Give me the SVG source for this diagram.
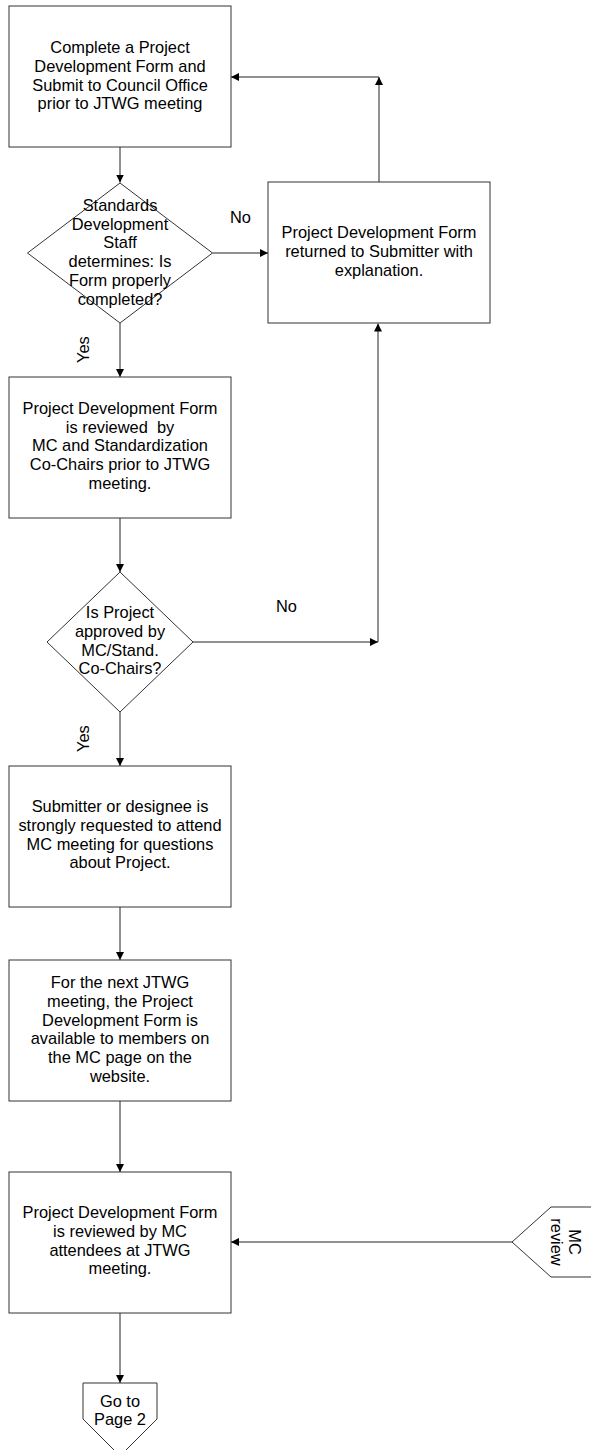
<svg xmlns="http://www.w3.org/2000/svg" width="591" height="1450" viewBox="0 0 591 1450">
<style>
.shape{fill:#fff;stroke:#333;stroke-width:1}
.t{font-family:"Liberation Sans",Arial,sans-serif;font-size:16.4px;fill:#000;text-anchor:middle}
.tl{font-family:"Liberation Sans",Arial,sans-serif;font-size:16.4px;fill:#000}
.c{fill:none;stroke:#222;stroke-width:1}
</style>
<defs>
<marker id="ah" markerUnits="userSpaceOnUse" markerWidth="8" markerHeight="8" refX="8" refY="4" orient="auto">
<path d="M0,0 L8,4 L0,8 z" fill="#000"/>
</marker>
</defs>
<rect width="591" height="1450" fill="#fff"/>
<g id="connectors">
<line class="c" x1="120" y1="147" x2="120" y2="182.5" marker-end="url(#ah)"/>
<line class="c" x1="212.5" y1="253" x2="268" y2="253" marker-end="url(#ah)"/>
<line class="c" x1="379" y1="182" x2="379" y2="77" marker-end="url(#ah)"/>
<line class="c" x1="379" y1="77" x2="231" y2="77" marker-end="url(#ah)"/>
<line class="c" x1="120" y1="323" x2="120" y2="377" marker-end="url(#ah)"/>
<line class="c" x1="120" y1="518" x2="120" y2="572" marker-end="url(#ah)"/>
<line class="c" x1="193" y1="642" x2="378" y2="642" marker-end="url(#ah)"/>
<line class="c" x1="378" y1="642" x2="378" y2="323.5" marker-end="url(#ah)"/>
<line class="c" x1="120" y1="712" x2="120" y2="766" marker-end="url(#ah)"/>
<line class="c" x1="120" y1="907" x2="120" y2="960" marker-end="url(#ah)"/>
<line class="c" x1="120" y1="1101" x2="120" y2="1172" marker-end="url(#ah)"/>
<line class="c" x1="512" y1="1242" x2="231" y2="1242" marker-end="url(#ah)"/>
<line class="c" x1="120" y1="1313" x2="120" y2="1383" marker-end="url(#ah)"/>
<text class="tl" x="230" y="222.7">No</text>
<text class="tl" x="276" y="611.7">No</text>
<text class="tl" transform="translate(89,363) rotate(-90)">Yes</text>
<text class="tl" transform="translate(89,752) rotate(-90)">Yes</text>
</g>
<g id="n1">
<rect class="shape" x="9" y="6" width="222" height="141"/>
<text class="t" x="120" y="53.3">Complete a Project</text>
<text class="t" x="120" y="72">Development Form and</text>
<text class="t" x="120" y="90.7">Submit to Council Office</text>
<text class="t" x="120" y="109.4">prior to JTWG meeting</text>
</g>
<g id="d1">
<polygon class="shape" points="120,183 212.5,253 120,323 27.5,253"/>
<text class="t" x="120" y="211">Standards</text>
<text class="t" x="120" y="229.7">Development</text>
<text class="t" x="120" y="248.4">Staff</text>
<text class="t" x="120" y="267.1">determines: Is</text>
<text class="t" x="120" y="285.8">Form properly</text>
<text class="t" x="120" y="304.5">completed?</text>
</g>
<g id="n2">
<rect class="shape" x="268" y="182" width="222" height="141"/>
<text class="t" x="379" y="238.3">Project Development Form</text>
<text class="t" x="379" y="257">returned to Submitter with</text>
<text class="t" x="379" y="275.7">explanation.</text>
</g>
<g id="n3">
<rect class="shape" x="9" y="377" width="222" height="141"/>
<text class="t" x="120" y="414">Project Development Form</text>
<text class="t" x="120" y="432.7" xml:space="preserve">is reviewed  by</text>
<text class="t" x="120" y="451.4">MC and Standardization</text>
<text class="t" x="120" y="470.1">Co-Chairs prior to JTWG</text>
<text class="t" x="120" y="488.8">meeting.</text>
</g>
<g id="d2">
<polygon class="shape" points="120,572 193,642 120,712 47,642"/>
<text class="t" x="120" y="618.3">Is Project</text>
<text class="t" x="120" y="637">approved by</text>
<text class="t" x="120" y="655.7">MC/Stand.</text>
<text class="t" x="120" y="674.4">Co-Chairs?</text>
</g>
<g id="n4">
<rect class="shape" x="9" y="766" width="222" height="141"/>
<text class="t" x="120" y="812.3">Submitter or designee is</text>
<text class="t" x="120" y="831">strongly requested to attend</text>
<text class="t" x="120" y="849.7">MC meeting for questions</text>
<text class="t" x="120" y="868.4">about Project.</text>
</g>
<g id="n5">
<rect class="shape" x="9" y="960" width="222" height="141"/>
<text class="t" x="120" y="988.3">For the next JTWG</text>
<text class="t" x="120" y="1007">meeting, the Project</text>
<text class="t" x="120" y="1025.7">Development Form is</text>
<text class="t" x="120" y="1044.4">available to members on</text>
<text class="t" x="120" y="1063.1">the MC page on the</text>
<text class="t" x="120" y="1081.8">website.</text>
</g>
<g id="n6">
<rect class="shape" x="9" y="1172" width="222" height="141"/>
<text class="t" x="120" y="1218.3">Project Development Form</text>
<text class="t" x="120" y="1237">is reviewed by MC</text>
<text class="t" x="120" y="1255.7">attendees at JTWG</text>
<text class="t" x="120" y="1274.4">meeting.</text>
</g>
<g id="mcreview">
<polygon class="shape" points="512,1242 551,1207 600,1207 600,1277 551,1277"/>
<text class="t" transform="translate(569,1242) rotate(90)">MC</text>
<text class="t" transform="translate(550.5,1242) rotate(90)">review</text>
</g>
<g id="goto">
<polygon class="shape" points="83,1383 157,1383 157,1419 120,1456 83,1419"/>
<text class="t" x="120" y="1406.5">Go to</text>
<text class="t" x="120" y="1424.5">Page 2</text>
</g>
</svg>
